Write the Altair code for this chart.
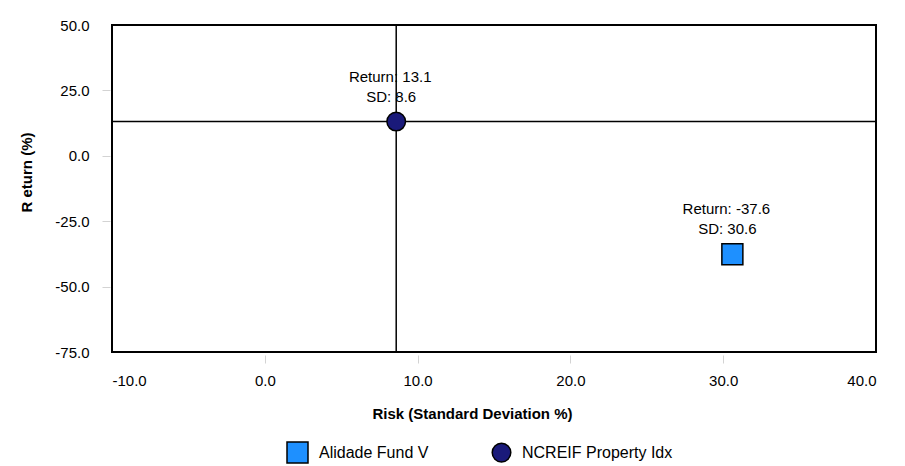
import altair as alt
import pandas as pd

series = ["Alidade Fund V", "NCREIF Property Idx"]
risk = [30.6, 8.6]
ret = [-37.6, 13.1]
colors = ["#1e90ff", "#1a1a7a"]
shapes = ["square", "circle"]
sizes = [441, 346]
x_ticks = [-10, 0, 10, 20, 30, 40]
y_ticks = [-75, -50, -25, 0, 25, 50]
x_title = "Risk (Standard Deviation %)"
y_title = "R eturn (%)"

df = pd.DataFrame({
    "series": series,
    "risk": risk,
    "ret": ret,
    "ret_label": ["Return: %.1f" % v for v in ret],
    "sd_label": ["SD: %.1f" % v for v in risk],
})

FONT = "Liberation Sans"
LABEL_EXPR = "replace(format(datum.value, '.1f'), '\u2212', '-')"

xscale = alt.Scale(domain=[-10, 40], nice=False, zero=False)
yscale = alt.Scale(domain=[-75, 50], nice=False, zero=False)

xaxis = alt.Axis(
    values=x_ticks, labelExpr=LABEL_EXPR, grid=False, domain=False,
    tickColor={"condition": {"test": "datum.value == -10 || datum.value == 40", "value": "transparent"}, "value": "#d3d3d3"},
    tickSize=8, offset=3, labelPadding=10,
    labelFont=FONT, labelFontSize=15, labelColor="black",
    title=x_title, titleFont=FONT, titleFontSize=15, titleFontWeight="bold",
    titleColor="black", titleX=360, titleY=51, titleAnchor="middle",
)
yaxis = alt.Axis(
    values=y_ticks, labelExpr=LABEL_EXPR, grid=False, domain=False,
    tickColor={"condition": {"test": "datum.value == -75 || datum.value == 50", "value": "transparent"}, "value": "#d3d3d3"},
    tickSize=8, offset=2, labelPadding=13,
    labelFont=FONT, labelFontSize=15, labelColor="black",
    title=y_title, titleFont=FONT, titleFontSize=15, titleFontWeight="bold",
    titleColor="black", titleX=-84, titleY=147, titleAngle=270,
    titleAlign="center", titleBaseline="middle",
)

color = alt.Color(
    "series:N",
    scale=alt.Scale(domain=series, range=colors),
    legend=alt.Legend(
        title=None, orient="none", legendX=174, legendY=416,
        direction="horizontal", symbolSize=620, symbolStrokeColor="black",
        symbolStrokeWidth=1.5, labelFont=FONT, labelFontSize=16,
        labelColor="black", labelOffset=10, columnPadding=60,
    ),
)
shape = alt.Shape("series:N", scale=alt.Scale(domain=series, range=shapes))
size = alt.Size("series:N", scale=alt.Scale(domain=series, range=sizes), legend=None)

nc = alt.Chart(df).transform_filter(alt.datum.series == "NCREIF Property Idx")

vrule = nc.mark_rule(color="black", strokeWidth=1.5).encode(
    x=alt.X("risk:Q", scale=xscale, axis=xaxis)
)
hrule = nc.mark_rule(color="black", strokeWidth=1.5).encode(
    y=alt.Y("ret:Q", scale=yscale, axis=yaxis)
)

base = alt.Chart(df).encode(
    x=alt.X("risk:Q", scale=xscale, axis=xaxis),
    y=alt.Y("ret:Q", scale=yscale, axis=yaxis),
)

points = base.mark_point(filled=True, opacity=1, stroke="black", strokeWidth=1.5).encode(
    color=color, shape=shape, size=size
)

ret_text = base.mark_text(font=FONT, fontSize=15, color="black", dx=-6, dy=-45).encode(
    text="ret_label:N"
)
sd_text = base.mark_text(font=FONT, fontSize=15, color="black", dx=-5, dy=-25).encode(
    text="sd_label:N"
)

chart = alt.layer(vrule, hrule, points, ret_text, sd_text).properties(
    width=764, height=327,
    background="white",
    autosize=alt.AutoSizeParams(type="none"),
    padding={"left": 104, "top": 17, "right": 21, "bottom": 114},
).configure_view(stroke="black", strokeWidth=2)

chart.save("out.html", embed_options={"renderer": "svg", "actions": False})
